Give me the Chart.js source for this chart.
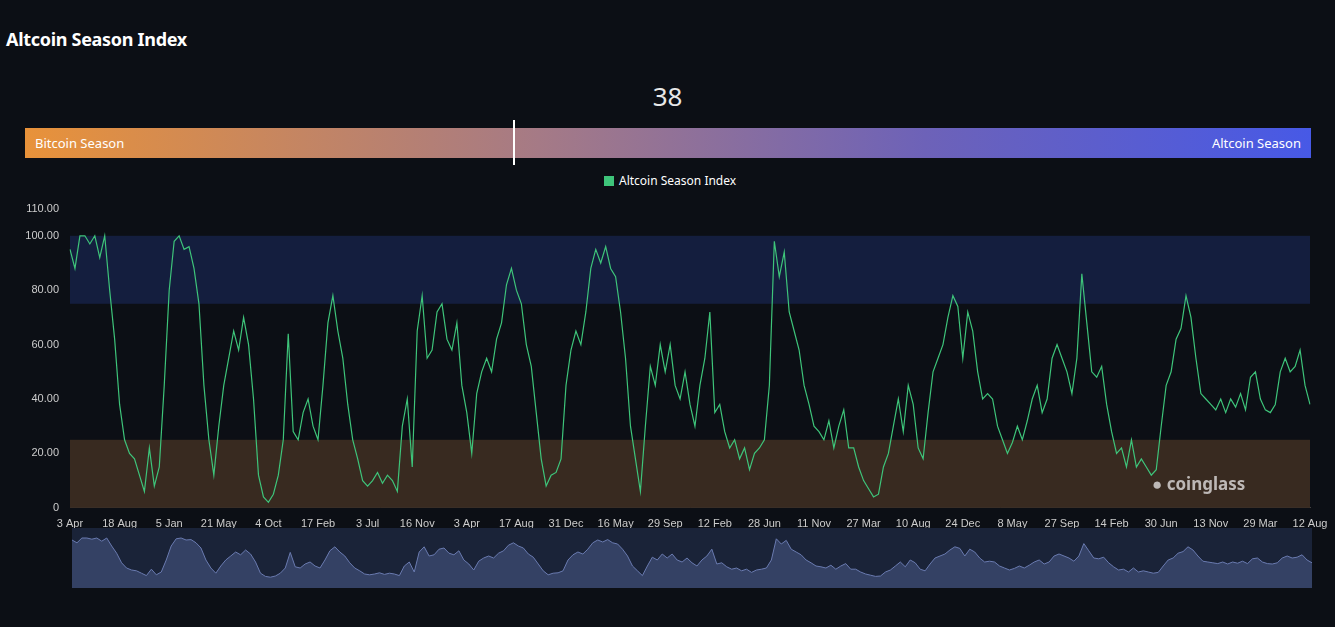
<!DOCTYPE html>
<html>
<head>
<meta charset="utf-8">
<script src="https://cdn.jsdelivr.net/npm/chart.js@4"></script>
<style>
  body { margin: 0; background: #0c0f15; width: 1335px; height: 627px; overflow: hidden; font-family: "Noto Sans", sans-serif; position: relative; }
  #title { position: absolute; left: 6px; top: 27px; color: #fff; font-weight: bold; font-size: 18px; letter-spacing: -0.3px; }
  #current { position: absolute; left: 0; width: 1335px; top: 78px; text-align: center; color: #e8e8e8; font-size: 26px; }
  #bar { position: absolute; left: 25px; top: 128px; width: 1286px; height: 30px; background: linear-gradient(90deg, #e8923a, #a57a86 40%, #6d62b8 70%, #4759e6); }
  #bar span { position: absolute; top: 6px; color: #fff; font-size: 13px; }
  #marker { position: absolute; top: 120px; width: 2px; height: 45px; background: #fff; }
  #legend { position: absolute; top: 172px; left: 604px; color: #fff; font-size: 12px; }
  #legend i { display: inline-block; width: 10px; height: 10px; background: #3ec47a; margin-right: 5px; vertical-align: -1px; }
  #mark { position: absolute; left: 1152px; top: 472px; color: #bdb8b6; font-size: 17px; font-weight: bold; }
  #main { position: absolute; left: 0; top: 199px; width: 1335px; height: 334px; }
  #nav { position: absolute; left: 72px; top: 528px; width: 1240px; height: 60px; background: #1a2338; }
</style>
</head>
<body>
<div id="title">Altcoin Season Index</div>
<div id="current"></div>
<div id="bar"><span style="left:10px">Bitcoin Season</span><span style="right:10px">Altcoin Season</span></div>
<div id="marker"></div>
<div id="legend"><i></i>Altcoin Season Index</div>
<div id="main"><canvas id="chart"></canvas></div>
<div id="nav"><canvas id="navChart"></canvas></div>
<div id="mark">&#9679; coinglass</div>
<script>
const tickLabels = ['3 Apr', '18 Aug', '5 Jan', '21 May', '4 Oct', '17 Feb', '3 Jul', '16 Nov', '3 Apr',
  '17 Aug', '31 Dec', '16 May', '29 Sep', '12 Feb', '28 Jun', '11 Nov', '27 Mar', '10 Aug', '24 Dec',
  '8 May', '27 Sep', '14 Feb', '30 Jun', '13 Nov', '29 Mar', '12 Aug'];

const indexValues = [
  95, 88, 100, 100, 97, 100, 92, 100, 80, 62,
  38, 25, 20, 18, 12, 6, 22, 8, 15, 45,
  80, 98, 100, 95, 96, 88, 75, 45, 25, 12,
  30, 45, 55, 65, 58, 70, 60, 40, 12, 4,
  2, 5, 12, 25, 64, 28, 25, 35, 40, 30,
  25, 45, 68, 78, 65, 55, 38, 25, 18, 10,
  8, 10, 13, 9, 12, 10, 6, 30, 40, 15,
  65, 78, 55, 58, 72, 75, 62, 58, 68, 45,
  35, 20, 42, 50, 55, 50, 62, 68, 82, 88,
  80, 75, 60, 52, 35, 18, 8, 12, 13, 18,
  45, 58, 65, 60, 72, 88, 95, 90, 96, 88,
  85, 72, 55, 30, 18, 6, 30, 52, 45, 60,
  50, 60, 45, 40, 50, 38, 30, 45, 55, 72,
  35, 38, 28, 22, 25, 18, 22, 14, 20, 22,
  25, 45, 98, 85, 94, 72, 65, 58, 45, 38,
  30, 28, 25, 32, 22, 30, 36, 22, 22, 15,
  10, 7, 4, 5, 15, 20, 30, 40, 28, 45,
  38, 22, 18, 35, 50, 55, 60, 70, 78, 74,
  55, 72, 65, 50, 40, 42, 40, 30, 25, 20,
  24, 30, 25, 32, 40, 45, 35, 40, 55, 60,
  55, 50, 42, 55, 86, 68, 50, 48, 52, 38,
  28, 20, 22, 15, 25, 15, 18, 15, 12, 14,
  30, 45, 50, 62, 66, 78, 70, 55, 42, 40,
  38, 36, 40, 35, 40, 37, 42, 36, 48, 50,
  40, 36, 35, 38, 50, 55, 50, 52, 58, 45,
  38
];

const currentValue = 38;
const bands = [
  { from: 75, to: 100, color: '#141e3e' },
  { from: 0, to: 25, color: '#382a20' }
];

const POINTS_PER_TICK = 10;
const labels = indexValues.map((v, i) => i % POINTS_PER_TICK === 0 ? tickLabels[i / POINTS_PER_TICK] : '');

document.getElementById('current').textContent = currentValue;
document.getElementById('marker').style.left = (25 + 1286 * currentValue / 100 - 1) + 'px';

const bandPlugin = {
  id: 'bands',
  beforeDatasetsDraw(chart) {
    const { ctx, chartArea, scales } = chart;
    ctx.save();
    bands.forEach(b => {
      const top = scales.y.getPixelForValue(b.to);
      const bottom = scales.y.getPixelForValue(b.from);
      ctx.fillStyle = b.color;
      ctx.fillRect(chartArea.left, top, chartArea.right - chartArea.left, bottom - top);
    });
    ctx.restore();
  }
};

new Chart(document.getElementById('chart'), {
  type: 'line',
  data: {
    labels: labels,
    datasets: [{
      label: 'Altcoin Season Index',
      data: indexValues,
      borderColor: '#3ec47a',
      borderWidth: 1.2,
      pointRadius: 0,
      tension: 0
    }]
  },
  options: {
    animation: false,
    responsive: true,
    maintainAspectRatio: false,
    layout: { padding: { top: 6, right: 25 } },
    plugins: { legend: { display: false }, tooltip: { enabled: false } },
    scales: {
      x: {
        grid: { display: false },
        border: { color: '#444' },
        ticks: { color: '#ccc', font: { size: 11 }, autoSkip: false, maxRotation: 0, padding: 2 }
      },
      y: {
        min: 0, max: 110,
        afterBuildTicks: axis => { axis.ticks = [0, 20, 40, 60, 80, 100, 110].map(v => ({ value: v })); },
        afterFit: axis => { axis.width = 70; },
        grid: { display: false },
        border: { display: false },
        ticks: { color: '#ccc', font: { size: 11 }, callback: v => v === 0 ? '0' : v.toFixed(2) }
      }
    }
  },
  plugins: [bandPlugin]
});

new Chart(document.getElementById('navChart'), {
  type: 'line',
  data: {
    labels: labels,
    datasets: [{
      data: indexValues,
      borderColor: '#6a7bb0',
      backgroundColor: 'rgba(70, 85, 130, 0.6)',
      fill: 'start',
      borderWidth: 1,
      pointRadius: 0
    }]
  },
  options: {
    animation: false,
    responsive: true,
    maintainAspectRatio: false,
    plugins: { legend: { display: false }, tooltip: { enabled: false } },
    scales: {
      x: { display: false },
      y: { display: false, min: -25, max: 125 }
    }
  }
});
</script>
</body>
</html>
